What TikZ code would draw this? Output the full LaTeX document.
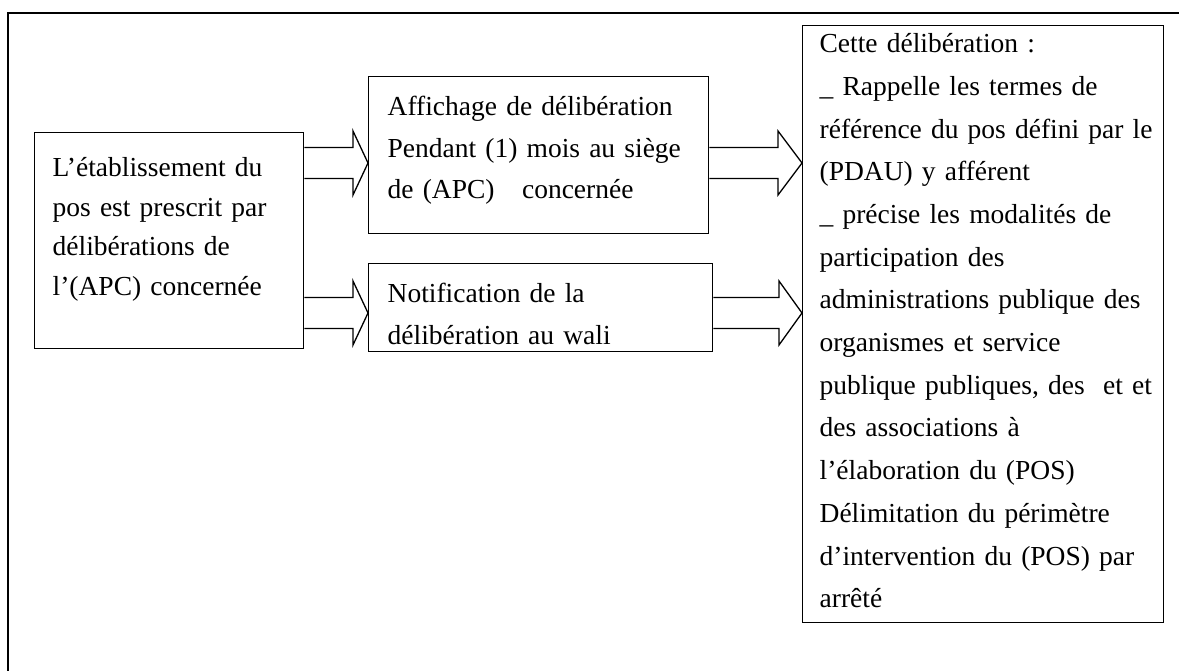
\documentclass[tikz,border=0pt]{standalone}
\usepackage{fontspec}
\setmainfont{Liberation Serif}
\usetikzlibrary{calc}
\def\blockarrow[#1](#2)(#3)(#4){\draw[arrowline] ($(#2.east|-0,#4)+(0,-15.5)$) -- ($(#3.west|-0,#4)+(-#1,-15.5)$) -- ++(0,-16.5) -- (#3.west|-0,#4) -- ($(#3.west|-0,#4)+(-#1,32)$) -- ++(0,-16.5) -- ($(#2.east|-0,#4)+(0,15.5)$);}
\tikzset{
	box/.style={draw, line width=1.3pt, anchor=north west, align=left, inner ysep=0pt},
	arrowline/.style={line width=1.3pt, line join=miter},
	frameline/.style={line width=1.8pt}
}

\begin{document}
\begin{tikzpicture}[x=1pt, y=-1pt, font=\fontsize{27.5pt}{41.5pt}\selectfont]
			%%%%% START %%%%%
			\useasboundingbox (0,0) rectangle (1179,671);
			
			\draw[frameline] (8,671) -- (8,13) -- (1179,13);
			
			\node[box, font=\fontsize{27.5pt}{39.5pt}\selectfont, inner xsep=18pt, text width=233pt, text height=44pt, text depth=172pt] (src) at (34,132) {L’établissement du\\pos est prescrit par\\délibérations de\\l’(APC) concernée};
			
			\node[box, inner xsep=19pt, text width=302pt, text height=39pt, text depth=118pt] (affich) at (368,76) {Affichage de délibération\\Pendant (1) mois au siège\\de (APC)\ \ \ concernée};
			\node[box, inner xsep=19pt, text width=306pt, text height=39pt, text depth=49pt] (notif) at (368,263) {Notification de la\\délibération au wali};
			
			\node[box, font=\fontsize{27.5pt}{42.7pt}\selectfont, inner xsep=17pt, text width=327pt, text height=27pt, text depth=570pt] (delib) at (802,25) {Cette délibération :\\\_ Rappelle les termes de\\\mbox{référence du pos défini par le}\\(PDAU) y afférent\\\_ précise les modalités de\\participation des\\\mbox{administrations publique des}\\organismes et service\\\mbox{publique publiques, des\ \ et et}\\des associations à\\l’élaboration du (POS)\\Délimitation du périmètre\\\mbox{d’intervention du (POS) par}\\arrêté};
			
			\blockarrow[15](src)(affich)(163)
			\blockarrow[15](src)(notif)(313)
			\blockarrow[24](affich)(delib)(163)
			\blockarrow[23](notif)(delib)(313)
			%%%%% END %%%%%
		\end{tikzpicture}
\end{document}
